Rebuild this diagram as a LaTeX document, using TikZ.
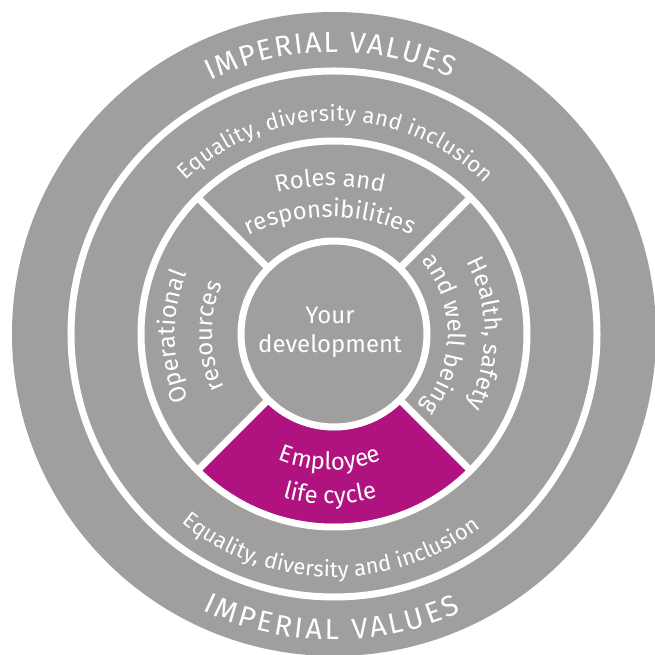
\documentclass[tikz,border=0pt]{standalone}
\usepackage{fontspec}
\IfFontExistsTF{FiraSans-Light.otf}{\setmainfont{FiraSans-Light.otf}}{\setmainfont{Fira Sans}}
\usetikzlibrary{decorations.text}
\definecolor{ringgray}{RGB}{161,159,157}
\definecolor{lifemag}{RGB}{176,19,128}
\newcommand\setfs[1]{\fontsize{#1}{1.2\dimexpr#1pt\relax}\selectfont}
\tikzset{
  whiteline/.style={white,line width=7},
  arctext/.style={decorate,decoration={text along path,text align=center,text color=white,text={#1}}},
  fittext/.style={decorate,decoration={text along path,text align=fit to path,text color=white,text={#1}}}
}
\begin{document}
\begin{tikzpicture}[x=1pt,y=1pt]
\useasboundingbox (-334,-321) rectangle (321,334);
\fill[white] (-334,-321) rectangle (321,334);
\begin{scope}
\clip (-334,-321) rectangle (321,334);
\fill[ringgray] (0,0) circle[radius=322];
\end{scope}
\draw[whiteline] (0,0) circle[radius=263];
\draw[whiteline] (0,0) circle[radius=193];
\fill[lifemag] (-135:96.5) arc[start angle=-135,end angle=-45,radius=96.5]
   -- (-45:189.5) arc[start angle=-45,end angle=-135,radius=189.5] -- cycle;
\draw[whiteline] (0,0) circle[radius=93];
\foreach \a in {45,135,225,315} \draw[whiteline] (\a:93) -- (\a:193);
% outer band
\path[fittext={|\setfs{29}|IMPERIAL VALUES}] (116:282) arc[start angle=116,end angle=65.5,radius=282];
\path[fittext={|\setfs{29}|IMPERIAL VALUES}] (-115.5:306) arc[start angle=-115.5,end angle=-65.5,radius=306];
% second band
\path[fittext={|\setfs{22}|Equality, diversity and inclusion}] (134:213) arc[start angle=134,end angle=45,radius=213];
\path[fittext={|\setfs{22}|Equality, diversity and inclusion}] (-129:243) arc[start angle=-129,end angle=-53,radius=243];
% segments
\begin{scope}[shift={(-4,-73)}]
\path[arctext={|\setfs{24}|Roles and}] (130:221) arc[start angle=130,end angle=50,radius=221];
\path[arctext={|\setfs{24}|responsibilities}] (140:190) arc[start angle=140,end angle=40,radius=190];
\end{scope}
\begin{scope}[shift={(-4,0)}]
\path[arctext={|\setfs{24}|Employee}] (-135:136) arc[start angle=-135,end angle=-45,radius=136];
\path[arctext={|\setfs{24}|life cycle}] (-125:170) arc[start angle=-125,end angle=-55,radius=170];
\end{scope}
\path[arctext={|\setfs{24}|Operational}] (226:159) arc[start angle=226,end angle=136,radius=159];
\path[arctext={|\setfs{24}|resources}] (226:122) arc[start angle=226,end angle=136,radius=122];
\path[arctext={|\setfs{24}|Health, safety}] (50:151) arc[start angle=50,end angle=-50,radius=151];
\path[arctext={|\setfs{24}|and well being}] (55:114) arc[start angle=55,end angle=-55,radius=114];
\node[white,font=\setfs{24},align=center] (dev) at (-4,2) {Your\\development};
\end{tikzpicture}
\end{document}
